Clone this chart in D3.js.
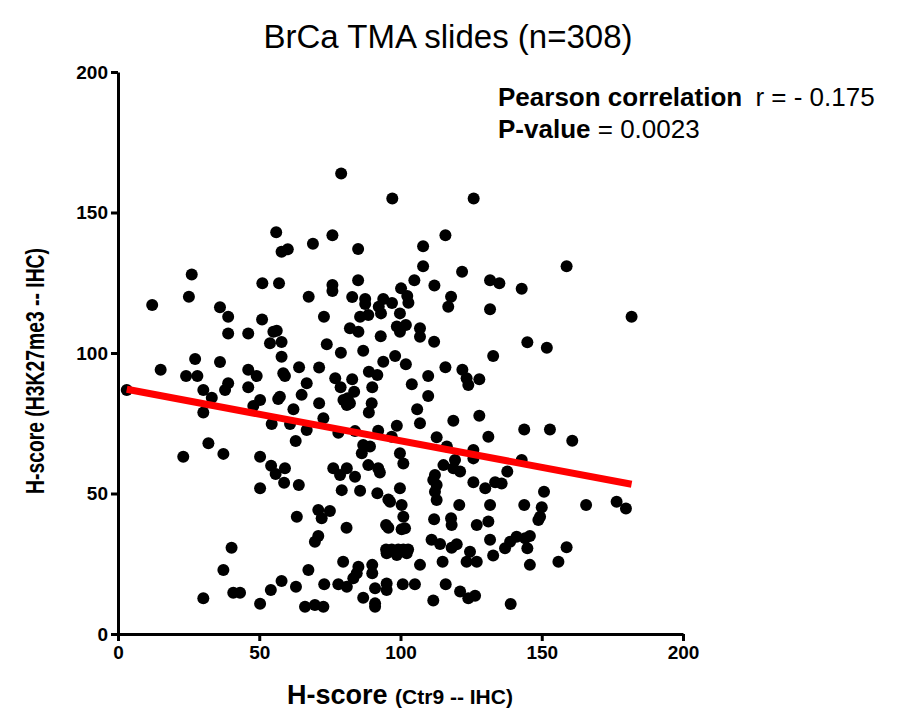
<!DOCTYPE html>
<meta charset="utf-8">
<script src="https://d3js.org/d3.v7.min.js"></script>
<style>
  body { margin: 0; background: #fff; }
  text { font-family: "Liberation Sans", Arial, sans-serif; }
  .axis path, .axis line { stroke: #000; stroke-width: 3; }
  .axis text { font-size: 19px; font-weight: bold; fill: #000; }
</style>
<div id="vis"></div>
<script>
  var margin = {top: 72, right: 224, bottom: 77, left: 118}
  var width = 907 - margin.left - margin.right
  var height = 711 - margin.top - margin.bottom

  // Ctr9 H-score (x)
  var ctr9 = [
    79.0, 97.1, 125.9, 56.0, 75.9, 115.9, 69.0, 57.9, 60.1, 108.0, 158.8, 85.0, 108.0, 121.8, 26.1, 25.1,
    51.1, 57.0, 12.1, 36.1, 67.5, 85.0, 75.9, 75.9, 104.9, 112.0, 131.7, 135.0, 142.9, 82.9, 87.5, 87.5,
    93.9, 97.0, 100.2, 102.4, 102.8, 117.9, 116.9, 131.7, 92.3,
    39.0, 39.0, 46.1, 51.0, 55.0, 56.2, 53.8, 57.9, 57.9, 27.3, 36.1, 15.1, 24.1, 28.1, 46.1, 49.1,
    58.5, 59.1, 64.1, 66.8, 39.0, 37.9, 46.1, 30.2, 33.2, 50.3, 47.9, 57.3, 56.7, 65.0, 62.1, 3.1,
    30.2, 54.4, 60.9, 66.8, 62.9, 32.0, 23.1, 37.3, 50.3,
    99.8, 93.1, 85.7, 88.6, 72.9, 82.1, 85.1, 93.0, 98.7, 101.9, 99.8, 106.9, 106.9, 111.9, 73.9, 78.9,
    86.8, 98.1, 93.9, 101.9, 132.8, 71.2, 115.9, 121.9, 123.4, 124.0, 127.9, 88.8, 91.8, 76.9, 78.8,
    82.9, 90.0, 104.0, 109.8, 83.6, 81.3, 79.8, 81.0, 82.1, 89.8, 88.8, 109.8, 71.2, 105.9, 106.9,
    127.9, 118.7, 72.7, 78.0, 83.9, 92.1, 98.7, 86.8, 89.2, 86.3, 96.9, 112.8, 116.4, 131.1, 125.8, 99.8,
    181.8, 144.9, 151.8, 143.8, 152.9, 160.8, 142.9,
    54.2, 59.1, 55.8, 58.8, 64.0, 50.3, 63.3, 40.2, 37.3, 67.4, 57.9, 54.1, 63.0, 40.8, 43.2, 30.2,
    50.3, 66.2,
    101.0, 76.2, 81.0, 78.6, 83.9, 88.6, 92.1, 92.7, 79.2, 85.7, 91.8, 99.8, 95.7, 96.3, 100.4, 101.0,
    101.6, 100.4, 94.9, 95.7, 80.9, 70.9, 75.0, 72.1, 70.9, 69.7, 112.2, 111.6, 112.8, 112.2, 112.8,
    115.2, 119.3, 118.7, 121.1, 125.8, 125.8, 130.0, 133.5, 120.8, 131.7, 111.9, 117.9, 118.1, 127.0,
    131.1, 111.0, 114.0, 118.1, 119.9, 124.6, 123.4, 127.0, 131.7, 132.8, 114.9, 94.9, 96.9, 99.2,
    101.0, 102.7, 95.1, 98.7, 102.2, 106.9, 79.7, 85.1, 84.5, 83.3, 90.0, 90.0, 73.0, 78.0, 81.0,
    91.0, 95.1, 95.1, 100.8, 105.1, 116.0, 86.8, 91.0, 91.0, 69.7, 72.7, 111.6, 121.1, 124.0, 126.4,
    137.8, 135.8, 150.8, 143.8, 150.0, 149.4, 148.8, 165.7, 176.5, 179.8, 137.0, 138.8, 141.1, 144.1,
    145.8, 144.9, 145.8, 155.9, 158.8, 139.0
  ]

  // H3K27me3 H-score (y), same order
  var h3k27 = [
    163.9, 155.0, 155.0, 143.0, 141.9, 141.9, 138.9, 136.0, 136.9, 138.0, 130.9, 137.0, 130.9, 128.9, 127.9, 120.0,
    124.8, 124.8, 117.1, 116.3, 120.0, 125.9, 124.2, 122.1, 125.9, 124.0, 125.9, 124.8, 122.9, 119.9, 119.2, 117.4,
    119.2, 117.8, 123.0, 120.3, 117.9, 120.0, 116.5, 115.6, 116.5,
    112.9, 106.9, 106.9, 111.9, 107.6, 107.9, 103.5, 103.9, 98.7, 97.9, 96.8, 94.0, 91.8, 91.8, 94.0, 91.8,
    92.8, 91.8, 94.9, 89.2, 89.2, 86.8, 87.8, 86.8, 84.1, 83.3, 81.1, 84.4, 83.6, 85.1, 80.0, 86.8,
    78.8, 74.7, 74.7, 72.6, 68.7, 67.9, 63.1, 64.1, 63.1,
    114.1, 114.1, 112.9, 113.5, 112.9, 108.8, 107.6, 106.0, 109.4, 110.0, 107.6, 108.8, 105.8, 104.0, 103.1, 100.1,
    100.8, 98.9, 96.9, 96.0, 98.9, 94.8, 94.9, 94.0, 91.0, 88.6, 90.7, 93.3, 92.2, 91.0, 87.8,
    90.7, 87.8, 88.9, 91.8, 86.2, 83.9, 83.3, 81.5, 82.1, 82.1, 78.8, 84.7, 82.1, 80.0, 75.0,
    77.7, 75.9, 76.8, 71.6, 72.2, 72.3, 74.1, 67.3, 66.7, 64.3, 70.2, 70.0, 66.7, 70.2, 65.5, 64.3,
    112.9, 103.8, 101.9, 72.8, 72.8, 68.8, 61.9,
    59.9, 59.0, 56.9, 53.8, 53.0, 51.9, 41.7, 30.7, 22.8, 22.8, 18.9, 15.7, 16.8, 14.7, 14.7, 12.7,
    10.8, 9.7,
    60.7, 59.0, 59.0, 56.6, 56.0, 60.1, 59.0, 57.5, 51.2, 51.0, 50.1, 51.9, 47.9, 47.1, 45.9, 41.7,
    37.6, 37.3, 38.8, 37.8, 37.8, 44.1, 43.8, 41.2, 34.9, 32.8, 56.6, 54.8, 53.0, 50.6, 47.7,
    60.1, 61.9, 59.0, 57.8, 62.5, 54.0, 51.9, 54.0, 45.9, 45.9, 40.8, 41.2, 38.8, 38.8,
    40.0, 33.5, 32.0, 30.7, 31.9, 29.3, 25.7, 25.7, 33.5, 27.9, 25.7, 30.1, 30.1, 30.1,
    30.1, 30.1, 28.7, 28.1, 28.7, 24.6, 25.7, 23.9, 21.6, 19.8, 24.6, 21.6, 17.7, 17.7, 16.8,
    16.3, 18.0, 15.7, 17.7, 17.7, 17.7, 12.9, 10.9, 9.7, 10.3, 9.7, 11.9, 15.1, 12.7, 13.6,
    57.8, 53.6, 50.6, 45.9, 45.1, 41.7, 40.6, 45.9, 47.1, 44.7, 30.5, 32.8, 34.6, 34.1,
    34.9, 30.5, 24.6, 25.7, 30.9, 10.7
  ]

  // regression line end points
  var fitX = [3.1, 181.8]
  var fitY = [87.1, 53.3]

  var xTicks = [0, 50, 100, 150, 200]
  var yTicks = [0, 50, 100, 150, 200]

  var svg = d3.select("#vis")
    .append("svg")
    .attr("width", 907)
    .attr("height", 711)

  var g = svg.append("g")
    .attr("transform", "translate(" + margin.left + "," + margin.top + ")")

  var x = d3.scaleLinear().domain([0, 200]).range([0, width])
  var y = d3.scaleLinear().domain([0, 200]).range([height, 0])

  // points
  g.append("g")
    .selectAll("circle")
    .data(d3.range(ctr9.length))
    .enter()
    .append("circle")
    .attr("cx", function (i) { return x(ctr9[i]) })
    .attr("cy", function (i) { return y(h3k27[i]) })
    .attr("r", 6)
    .attr("fill", "#000")

  // red fit line
  g.append("line")
    .attr("x1", x(fitX[0])).attr("y1", y(fitY[0]))
    .attr("x2", x(fitX[1])).attr("y2", y(fitY[1]))
    .attr("stroke", "#ff0000")
    .attr("stroke-width", 7)

  // axes
  g.append("g")
    .attr("class", "axis")
    .attr("transform", "translate(0," + height + ")")
    .call(d3.axisBottom(x).tickValues(xTicks).tickSize(7).tickSizeOuter(0).tickPadding(5))

  g.append("g")
    .attr("class", "axis")
    .call(d3.axisLeft(y).tickValues(yTicks).tickSize(7).tickSizeOuter(0).tickPadding(3))

  // title
  svg.append("text")
    .attr("x", 448)
    .attr("y", 48)
    .style("text-anchor", "middle")
    .style("font-size", "33px")
    .text("BrCa TMA slides (n=308)")

  // y axis label (narrow glyphs in the original)
  svg.append("text")
    .attr("transform", "translate(44,371) rotate(-90)")
    .style("text-anchor", "middle")
    .style("font-size", "25px")
    .style("font-weight", "bold")
    .attr("textLength", 246)
    .attr("lengthAdjust", "spacingAndGlyphs")
    .text("H-score (H3K27me3 -- IHC)")

  // x axis label
  var xl = svg.append("text")
    .attr("x", 400)
    .attr("y", 704)
    .style("text-anchor", "middle")
    .style("font-weight", "bold")
  xl.append("tspan").style("font-size", "27px").text("H-score ")
  xl.append("tspan").style("font-size", "21px").text("(Ctr9 -- IHC)")

  // stats annotation
  var a1 = svg.append("text").attr("x", 498).attr("y", 106).style("font-size", "26px")
  a1.append("tspan").style("font-weight", "bold").text("Pearson correlation")
  a1.append("tspan").attr("dx", 6).text("  r = - 0.175")

  var a2 = svg.append("text").attr("x", 498).attr("y", 138).style("font-size", "26px")
  a2.append("tspan").style("font-weight", "bold").text("P-value")
  a2.append("tspan").text(" = 0.0023")
</script>
